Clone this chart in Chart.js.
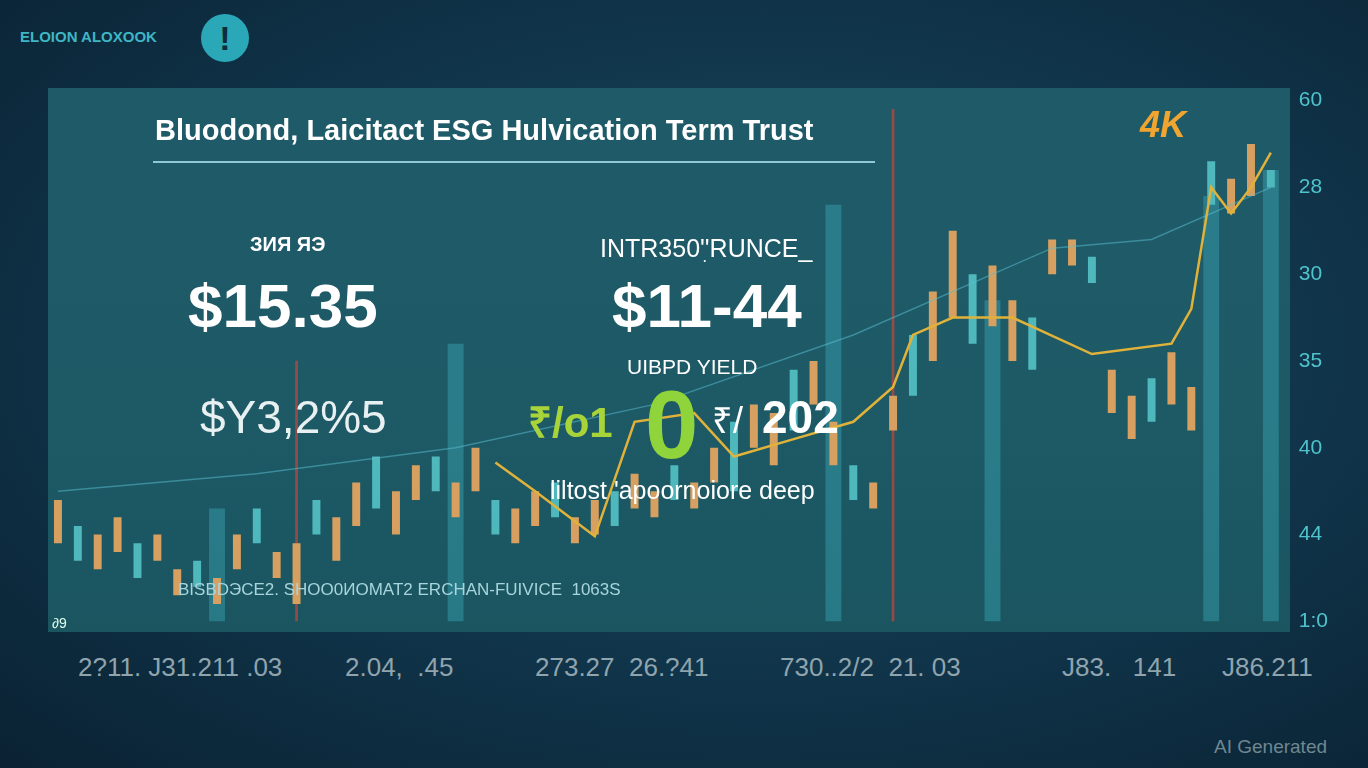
<!DOCTYPE html>
<html><head><meta charset="utf-8">
<script src="https://cdn.jsdelivr.net/npm/chart.js@4.4.1/dist/chart.umd.min.js"></script>
<style>
body{margin:0;width:1368px;height:768px;overflow:hidden;font-family:"Liberation Sans",Arial,sans-serif;
background:radial-gradient(ellipse at 55% 45%,#1b4d60 0%,#10344a 55%,#0a2233 100%);position:relative}
#panel{position:absolute;left:48px;top:88px;width:1242px;height:544px;
background:linear-gradient(180deg,#1f5a68 0%,#1d5a66 60%,#1a5560 100%);}
#wrap{position:absolute;left:48px;top:78px;width:1290px;height:566px}
.t{position:absolute;white-space:nowrap}
</style></head><body>
<div id="panel"></div>
<div id="wrap"><canvas id="c"></canvas></div>
<div class="t" style="left:20px;top:28px;color:#3fb6c4;font-size:15px;font-weight:bold">ELOION ALOXOOK</div>
<div class="t" style="left:201px;top:14px;width:48px;height:48px;border-radius:50%;background:#2aa8b8;color:#0d2d3d;font-size:34px;font-weight:bold;text-align:center;line-height:48px">!</div>
<div class="t" style="left:155px;top:114px;color:#fff;font-size:29px;font-weight:bold">Bluodond, Laicitact ESG Hulvication Term Trust</div>
<div class="t" style="left:153px;top:161px;width:722px;height:2px;background:#8fc8d4"></div>
<div class="t" style="left:1140px;top:104px;color:#f0a530;font-size:36px;font-weight:bold;font-style:italic">4K</div>
<div class="t" style="left:250px;top:233px;color:#fff;font-size:20px;font-weight:bold">ЗИЯ ЯЭ</div>
<div class="t" style="left:188px;top:270px;color:#fff;font-size:62px;font-weight:bold">$15.35</div>
<div class="t" style="left:200px;top:390px;color:#e8f0f2;font-size:46px">$Y3,2%5</div>
<div class="t" style="left:600px;top:234px;color:#fff;font-size:25px">INTR350'ׅ'RUNCE_</div>
<div class="t" style="left:612px;top:270px;color:#fff;font-size:62px;font-weight:bold">$11-44</div>
<div class="t" style="left:627px;top:355px;color:#fff;font-size:21px">UIBPD YIELD</div>
<div class="t" style="left:528px;top:392px;color:#a8d43a;font-size:42px;font-weight:bold">₹/o1</div>
<div class="t" style="left:645px;top:370px;color:#8fd43a;font-size:96px;font-weight:bold">0</div>
<div class="t" style="left:712px;top:395px;color:#fff;font-size:36px">₹/</div>
<div class="t" style="left:762px;top:390px;color:#fff;font-size:46px;font-weight:bold">202</div>
<div class="t" style="left:550px;top:476px;color:#fff;font-size:25px">liltost 'apoornoiore deep</div>
<div class="t" style="left:178px;top:580px;color:#a8d4dc;font-size:17px">BISBDЭCE2. SHOO0ИOMAT2 ERCHAN-FUIVICE &nbsp;1063S</div>
<div class="t" style="left:52px;top:615px;color:#dfe;font-size:14px">∂9</div>
<div class="t" style="left:78px;top:652px;color:#8fa4ad;font-size:26px">2?11. J31.211 .03</div>
<div class="t" style="left:345px;top:652px;color:#8fa4ad;font-size:26px">2.04, &nbsp;.45</div>
<div class="t" style="left:535px;top:652px;color:#8fa4ad;font-size:26px">273.27 &nbsp;26.?41</div>
<div class="t" style="left:780px;top:652px;color:#8fa4ad;font-size:26px">730..2/2 &nbsp;21. 03</div>
<div class="t" style="left:1062px;top:652px;color:#8fa4ad;font-size:26px">J83. &nbsp; 141</div>
<div class="t" style="left:1222px;top:652px;color:#8fa4ad;font-size:26px">J86.211</div>
<div class="t" style="left:1214px;top:736px;color:#6f8790;font-size:19px">AI Generated</div>
<script>
const rightTicks = ['1:0', '44', '40', '35', '30', '28', '60'];
const N = 62;
const labels = Array.from({length: N}, (_, i) => String(i));
// candle bodies [low, high] in axis units 0..6
const candles = [
 [0.9,1.4],[0.7,1.1],[0.6,1.0],[0.8,1.2],[0.5,0.9],[0.7,1.0],[0.3,0.6],[0.4,0.7],[0.2,0.5],[0.6,1.0],
 [0.9,1.3],[0.5,0.8],[0.2,0.9],[1.0,1.4],[0.7,1.2],[1.1,1.6],[1.3,1.9],[1.0,1.5],[1.4,1.8],[1.5,1.9],
 [1.2,1.6],[1.5,2.0],[1.0,1.4],[0.9,1.3],[1.1,1.5],[1.2,1.6],[0.9,1.2],[1.0,1.4],[1.1,1.5],[1.3,1.7],
 [1.2,1.5],[1.4,1.8],[1.3,1.6],[1.6,2.0],[1.5,2.3],[2.0,2.5],[1.8,2.4],[2.2,2.9],[2.5,3.0],[1.8,2.3],
 [1.4,1.8],[1.3,1.6],[2.2,2.6],[2.6,3.3],[3.0,3.8],[3.5,4.5],[3.2,4.0],[3.4,4.1],[3.0,3.7],[2.9,3.5],
 [4.0,4.4],[4.1,4.4],[3.9,4.2],[2.4,2.9],[2.1,2.6],[2.3,2.8],[2.5,3.1],[2.2,2.7],[4.8,5.3],[4.7,5.1],
 [4.9,5.5],[5.0,5.2]
];
const candleColors = candles.map((c, i) => (i % 3 === 1 ? '#4fb8bc' : '#d8a060'));
const tallBars = [null,null,null,null,null,null,null,null,1.3,null,null,null,null,null,null,null,null,null,null,null,
 3.2,null,null,null,null,null,null,null,null,null,null,null,null,null,null,null,null,null,null,4.8,
 null,null,null,null,null,null,null,3.7,null,null,null,null,null,null,null,null,null,null,4.9,null,null,5.2];
const redLines = Array(N).fill(null); redLines[12] = 3.0; redLines[42] = 5.9;
const goldLine = Array(N).fill(null);
[[22,1.83],[24,1.5],[27,0.98],[29,2.3],[32,2.4],[34,1.9],[37,2.1],[40,2.3],[42,2.7],[43,3.3],[45,3.5],[48,3.5],
 [52,3.08],[56,3.2],[57,3.6],[58,5.0],[59,4.7],[60,5.0],[61,5.4]].forEach(([i, v]) => goldLine[i] = v);
const tealLine = Array(N).fill(null);
[[0,1.5],[10,1.7],[20,2.0],[30,2.5],[40,3.3],[50,4.3],[55,4.4],[61,5.0]].forEach(([i, v]) => tealLine[i] = v);

new Chart(document.getElementById('c'), {
  data: {
    labels,
    datasets: [
      {type:'bar', data: tallBars, backgroundColor:'rgba(70,190,205,0.35)', barPercentage:0.8, categoryPercentage:1, grouped:false, order:5},
      {type:'bar', data: redLines, backgroundColor:'rgba(200,70,60,0.7)', barThickness:2, grouped:false, order:4},
      {type:'bar', data: candles, backgroundColor: candleColors, barPercentage:0.4, categoryPercentage:1, grouped:false, order:3},
      {type:'line', data: tealLine, borderColor:'rgba(90,190,210,0.5)', borderWidth:1.5, pointRadius:0, spanGaps:true, order:2},
      {type:'line', data: goldLine, borderColor:'#e0b23a', borderWidth:2.5, pointRadius:0, spanGaps:true, order:1}
    ]
  },
  options: {
    responsive:true, maintainAspectRatio:false, animation:false,
    layout:{padding:{top:10,bottom:0}},
    plugins:{legend:{display:false}, tooltip:{enabled:false}},
    scales:{
      x:{display:false},
      y:{position:'right', min:0, max:6, border:{display:false}, grid:{display:false},
         ticks:{stepSize:1, color:'#4fc3cc', font:{size:21}, padding:10, callback:v => rightTicks[v]}}
    }
  }
});
</script>
</body></html>
